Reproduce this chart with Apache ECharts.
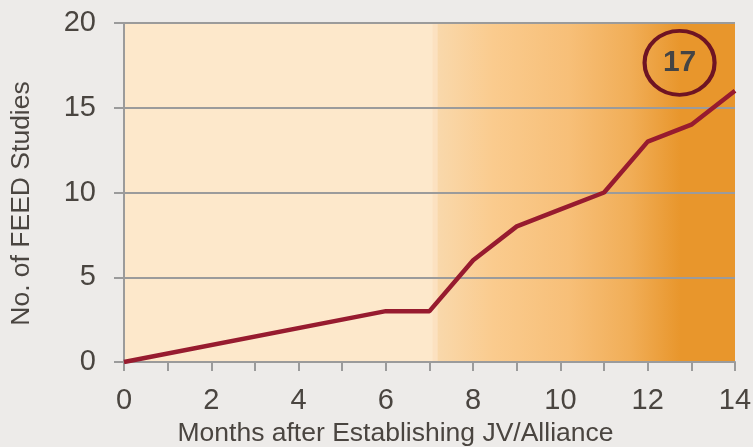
<!DOCTYPE html>
<html><head><meta charset="utf-8">
<script src="https://cdn.jsdelivr.net/npm/echarts@6/dist/echarts.min.js"></script>
<style>html,body{margin:0;padding:0;background:#EDEBE9}#c{width:753px;height:447px}</style>
</head><body><div id="c"></div>
<script>
const months = [0, 6, 7, 8, 9, 10, 11, 12, 13, 14];
const studies = [0, 3, 3, 6, 8, 9, 10, 13, 14, 16];
const xTicks = [0, 2, 4, 6, 8, 10, 12, 14];
const yTicks = [0, 5, 10, 15, 20];
const annotation = {label: '17', x: 12.73, y: 17.65};
const shadeStart = 7.07;

const chart = echarts.init(document.getElementById('c'));
const font = 'Liberation Sans, Arial, sans-serif';
chart.setOption({
  backgroundColor: '#EDEBE9',
  animation: false,
  grid: {left: 124, right: 18, top: 23, bottom: 85, backgroundColor: '#FDE8CB', show: true, borderWidth: 0,
    containLabel: false, outerBoundsMode: 'none'},
  xAxis: {
    type: 'value', min: 0, max: 14, interval: 1, z: 3,
    name: 'Months after Establishing JV/Alliance', nameLocation: 'middle', nameGap: 58,
    nameTextStyle: {fontFamily: font, fontSize: 26.5, color: '#4A4540', padding: [0, 68, 0, 0]},
    axisLine: {show: true, lineStyle: {color: '#9B9B9B', width: 2}},
    axisTick: {show: true, length: 9, lineStyle: {color: '#9B9B9B', width: 2}},
    axisLabel: {fontFamily: font, fontSize: 29, color: '#4A4540', margin: 24,
      formatter: v => xTicks.includes(v) ? String(v) : ''},
    splitLine: {show: false}
  },
  yAxis: {
    type: 'value', min: 0, max: 20, interval: 5, z: 3,
    name: 'No. of FEED Studies', nameLocation: 'middle', nameGap: 89, nameRotate: 90,
    nameTextStyle: {fontFamily: font, fontSize: 26.5, color: '#4A4540', padding: [0, 22, 0, 0]},
    axisLine: {show: true, lineStyle: {color: '#9B9B9B', width: 2}},
    axisTick: {show: true, inside: false, length: 10, lineStyle: {color: '#9B9B9B', width: 2}},
    axisLabel: {fontFamily: font, fontSize: 29, color: '#4A4540', margin: 28,
      formatter: v => yTicks.includes(v) ? String(v) : ''},
    splitLine: {show: true, lineStyle: {color: '#9B9B9B', width: 2}}
  },
  series: [{
    type: 'line',
    data: [],
    z: 1,
    markArea: {
      silent: true,
      itemStyle: {
        color: new echarts.graphic.LinearGradient(0, 0, 1, 0, [
          {offset: 0, color: '#FCE1C0'},
          {offset: 0.016, color: '#FCE1C0'},
          {offset: 0.017, color: '#F9D8AB'},
          {offset: 0.2, color: '#FACB8E'},
          {offset: 0.45, color: '#F7BF78'},
          {offset: 0.65, color: '#F1AE58'},
          {offset: 0.82, color: '#E8962C'},
          {offset: 1, color: '#E8962C'}
        ])
      },
      data: [[{xAxis: shadeStart}, {xAxis: 14}]]
    }
  }, {
    type: 'line',
    data: months.map((m, i) => [m, studies[i]]),
    symbol: 'none',
    lineStyle: {color: '#971B2F', width: 4.5},
    z: 5,
    markPoint: {
      silent: true,
      symbol: 'circle',
      symbolSize: [70, 64],
      itemStyle: {color: 'rgba(0,0,0,0)', borderColor: '#6E1423', borderWidth: 4},
      label: {show: true, formatter: annotation.label, fontFamily: font, fontWeight: 'bold', fontSize: 30, color: '#444444'},
      data: [{coord: [annotation.x, annotation.y]}]
    }
  }]
});
</script></body></html>
